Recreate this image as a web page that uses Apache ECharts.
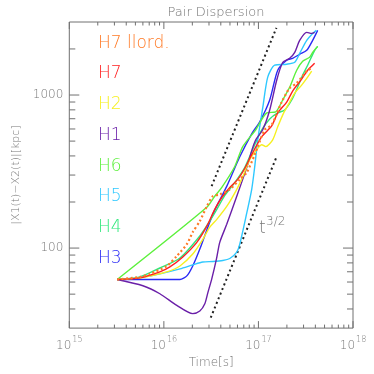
<!DOCTYPE html>
<html><head><meta charset="utf-8">
<script src="https://cdn.jsdelivr.net/npm/echarts@6/dist/echarts.min.js"></script>
<style>html,body{margin:0;padding:0;background:#fff}#c{width:374px;height:374px}</style>
</head><body><div id="c"></div>
<script>
// ---- data (time [s], separation [kpc]) ----
const seriesNames = ['H7 llord.', 'H7', 'H2', 'H1', 'H6', 'H5', 'H4', 'H3'];
const H7llord = [[3.21e15,62.3],[5.58e15,64.8],[7.11e15,67.8],[1.076e16,76.4],[1.37e16,88.7],[1.75e16,106],[2.02e16,127],[2.40e16,150],[2.845e16,187],[3.29e16,218],[3.90e16,224],[4.98e16,242],[6.35e16,281],[7.52e16,312],[9.14e16,408],[1.165e17,593],[1.381e17,638],[1.762e17,900],[2.142e17,1110],[2.538e17,1196],[3.315e17,1452],[3.745e17,1497]];
const H7 = [[3.21e15,62.3],[5.58e15,63.9],[9.07e15,69.9],[1.157e16,75.3],[1.587e16,87.5],[2.23e16,109],[2.845e16,139],[3.45e16,179],[4.10e16,214],[4.98e16,249],[6.05e16,281],[7.16e16,331],[8.49e16,408],[1.084e17,534],[1.381e17,629],[1.60e17,764],[1.99e17,900],[2.30e17,1061],[2.864e17,1270],[3.315e17,1452],[3.745e17,1566],[3.93e17,1613]];
const H2 = [[3.21e15,62.3],[5.58e15,63.9],[7.11e15,65.8],[1.076e16,69.9],[1.48e16,76.4],[2.02e16,91.4],[2.58e16,114],[3.06e16,137],[3.63e16,154],[4.62e16,187],[5.90e16,242],[6.83e16,293],[8.09e16,378],[9.60e16,440],[1.084e17,473],[1.194e17,460],[1.415e17,510],[1.60e17,620],[1.85e17,764],[2.142e17,900],[2.416e17,1030],[2.864e17,1161],[3.315e17,1309],[3.656e17,1431]];
const H1 = [[3.21e15,62.3],[6.0e15,56.7],[9.07e15,50.3],[1.37e16,42.2],[2.02e16,37.3],[2.40e16,38.8],[2.71e16,43.3],[2.915e16,51],[3.21e16,62.9],[3.60e16,84.9],[3.90e16,109],[4.62e16,143],[5.90e16,218],[7.71e16,351],[8.49e16,433],[9.37e16,510],[1.11e17,593],[1.316e17,799],[1.56e17,1250],[1.81e17,1637],[2.14e17,1738],[2.42e17,1901],[2.73e17,2275],[3.24e17,2566],[3.66e17,2527],[3.93e17,2566]];
const H6 = [[3.21e15,62.3],[2.845e16,184.6],[3.45e16,218],[4.10e16,249],[5.62e16,341],[6.83e16,460],[9.37e16,593],[1.224e17,764],[1.523e17,776],[1.806e17,928],[2.142e17,1127],[2.538e17,1452],[2.936e17,1662],[3.48e17,1765],[3.745e17,1901],[4.23e17,2080]];
const H5 = [[3.21e15,62.3],[6.0e15,64.5],[9.07e15,67.8],[1.48e16,73.1],[2.02e16,77.6],[2.58e16,81.1],[3.29e16,81.7],[4.20e16,83.0],[4.98e16,85.5],[5.90e16,94.2],[6.35e16,106],[7.52e16,169],[8.49e16,242],[9.14e16,341],[9.83e16,510],[1.11e17,823],[1.254e17,1309],[1.486e17,1566],[1.99e17,1590],[2.42e17,1637],[2.73e17,1874],[3.24e17,2275],[3.66e17,2489],[4.10e17,2644]];
const H4 = [[3.21e15,62.3],[5.58e15,64.8],[9.07e15,74.1],[1.48e16,86.1],[2.40e16,120],[3.06e16,150],[3.63e16,179],[4.41e16,221],[5.62e16,268],[7.16e16,336],[9.14e16,473],[1.084e17,593],[1.316e17,698],[1.60e17,764],[1.896e17,799],[2.248e17,928],[2.60e17,1127],[2.936e17,1349],[3.315e17,1566],[3.93e17,1959],[4.23e17,2080]];
const H3 = [[3.21e15,62.3],[7.11e15,62.3],[1.48e16,62.3],[1.75e16,65.8],[2.02e16,76.4],[2.40e16,98.5],[3.29e16,166],[4.62e16,253],[6.35e16,395],[8.49e16,558],[1.032e17,668],[1.316e17,928],[1.60e17,1452],[1.99e17,1687],[2.30e17,1738],[2.73e17,1846],[3.24e17,1959],[3.745e17,2275],[4.23e17,2644]];
const guideUpper = [[3.2e16,254],[1.55e17,2750]];
const guideLower = [[3.13e16,35.1],[1.57e17,400]];
const xMajorTicks = [1e15,1e16,1e17,1e18];
const xMinorTicks = [2e15,3e15,4e15,5e15,6e15,7e15,8e15,9e15,2e16,3e16,4e16,5e16,6e16,7e16,8e16,9e16,2e17,3e17,4e17,5e17,6e17,7e17,8e17,9e17];
const yMajorTicks = [100,1000];
const yMinorTicks = [40,50,60,70,80,90,200,300,400,500,600,700,800,900,2000];
const X_MIN = 1e15, X_MAX = 1e18, Y_MIN = 30, Y_MAX = 3000;

// ---- styles ----
const seriesData = [H7llord, H7, H2, H1, H6, H5, H4, H3];
const colors = ['#ff7a26','#ff2020','#f6f020','#6a1fa8','#5cf03c','#2ec8ff','#2ee87a','#2a2af5'];
const AX = '#707070', TXT = '#777777';
const FF = 'DejaVu Sans', FW = 200;

const chart = echarts.init(document.getElementById('c'), null, {renderer:'canvas'});

function tickSeries(values, axis, len) {
  return {
    type: 'custom', silent: true, z: 10, clip: false, animation: false,
    data: values.map(v => axis === 'x' ? [v, Y_MIN] : [X_MIN, v]),
    renderItem(params, api) {
      const cs = params.coordSys;
      let ch;
      if (axis === 'x') {
        const p = api.coord([api.value(0), Y_MIN])[0];
        const b = cs.y + cs.height, t = cs.y;
        ch = [{x1:p,y1:b,x2:p,y2:b-len},{x1:p,y1:t,x2:p,y2:t+len}];
      } else {
        const p = api.coord([X_MIN, api.value(1)])[1];
        const l = cs.x, r = cs.x + cs.width;
        ch = [{x1:l,y1:p,x2:l+len,y2:p},{x1:r,y1:p,x2:r-len,y2:p}];
      }
      return {type:'group', children: ch.map(s => ({type:'line', shape:s, style:{stroke:AX, lineWidth:1}}))};
    }
  };
}

const order = [7,6,5,4,3,2,1,0];
const lineSeries = order.map(i => ({
  name: seriesNames[i], type: 'line', data: seriesData[i], showSymbol: false, symbol: 'none',
  smooth: 0.25, z: 3,
  lineStyle: i === 0 ? {color: colors[i], width: 2.2, type: [2, 2.5]} : {color: colors[i], width: 1.4}
}));

const option = {
  backgroundColor: '#fff',
  animation: false,
  title: {text: 'Pair Dispersion', left: 211, top: 1, textAlign: 'center',
    textStyle: {color: TXT, fontSize: 13, fontWeight: FW, fontFamily: FF}},
  grid: {left: 69.3, right: 21, top: 22, bottom: 44.7, show: true, borderColor: AX, borderWidth: 1},
  xAxis: {type: 'log', logBase: 10, min: X_MIN, max: X_MAX,
    name: 'Time[s]', nameLocation: 'middle', nameGap: 21,
    nameTextStyle: {color: TXT, fontSize: 12, fontFamily: FF, fontWeight: FW},
    axisLine: {show: false}, axisTick: {show: false}, splitLine: {show: false}, minorTick: {show:false},
    axisLabel: {margin: 6, color: TXT, fontFamily: FF, fontWeight: FW,
      formatter: v => { const e = Math.log10(v); if (Math.abs(e - Math.round(e)) > 1e-6) return ''; return '{b|10}{s|' + Math.round(e) + '}'; },
      rich: {b: {fontSize: 12, color: TXT, fontFamily: FF, fontWeight: FW, padding:[6,0,0,0]}, s: {fontSize: 8, color: TXT, fontFamily: FF, fontWeight: FW, padding: [0, 0, 6, 1]}}}
  },
  yAxis: {type: 'log', logBase: 10, min: Y_MIN, max: Y_MAX,
    name: '|X1(t)\u2212X2(t)|[kpc]', nameLocation: 'middle', nameGap: 27, nameRotate: 90,
    nameTextStyle: {color: TXT, fontSize: 11, fontFamily: FF, fontWeight: FW},
    axisLine: {show: false}, axisTick: {show: false}, splitLine: {show: false}, minorTick: {show:false},
    axisLabel: {margin: 6, color: TXT, fontSize: 12, fontFamily: FF, fontWeight: FW,
      formatter: v => { const e = Math.log10(v); if (Math.abs(e - Math.round(e)) > 1e-6) return ''; return String(Math.round(v)); }}
  },
  series: [
    tickSeries(xMajorTicks, 'x', 7), tickSeries(xMinorTicks, 'x', 3.5),
    tickSeries(yMajorTicks, 'y', 10), tickSeries(yMinorTicks, 'y', 6),
    {type: 'line', data: guideUpper, symbol: 'none', z: 2, lineStyle: {color: '#222', width: 2, type: [2, 3]}},
    {type: 'line', data: guideLower, symbol: 'none', z: 2, lineStyle: {color: '#222', width: 2, type: [2, 3]}},
    ...lineSeries
  ],
  graphic: [
    ...seriesNames.map((n, i) => ({type: 'text', x: 98, y: 43.3 + i * 30.7, z: 20,
      style: {text: n, fill: colors[i], font: FW + ' 17px "' + FF + '"', verticalAlign: 'middle', align: 'left'}})),
    {type: 'text', x: 259, y: 229, style: {text: 't', fill: TXT, font: FW + ' 17px "' + FF + '"', verticalAlign: 'middle', align: 'left'}},
    {type: 'text', x: 266, y: 222, style: {text: '3/2', fill: TXT, font: FW + ' 12px "' + FF + '"', verticalAlign: 'middle', align: 'left'}}
  ]
};
chart.setOption(option);
</script></body></html>
